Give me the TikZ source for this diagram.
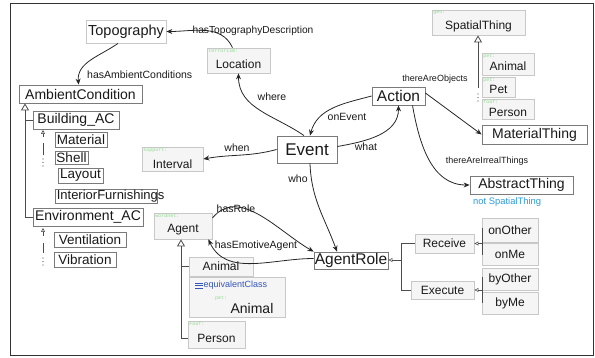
\documentclass[tikz,border=0pt]{standalone}
\usepackage{fontspec}
\setmainfont{Liberation Sans}
\newfontfamily\monof{Liberation Mono}
\usetikzlibrary{arrows.meta,calc}
\definecolor{coreB}{HTML}{7A7A7A}
\definecolor{extB}{HTML}{C8C8C8}
\definecolor{extF}{HTML}{F5F5F5}
\definecolor{pfxC}{HTML}{90DC90}
\definecolor{blueT}{HTML}{2A9AE0}
\definecolor{eqB}{HTML}{3355BB}
\tikzset{
 core/.style={draw=coreB, fill=white, line width=0.8pt, inner sep=0pt, text=black!90, font=\fontsize{14}{16}\selectfont},
 smc/.style={font=\fontsize{13.5}{15}\selectfont},
 ext/.style={draw=extB, fill=extF, line width=0.8pt, inner sep=0pt, text=black!90, font=\fontsize{12}{14}\selectfont},
 etxt/.style={inner sep=0pt, text=black!90, font=\fontsize{12}{14}\selectfont},
 pfx/.style={font=\monof\fontsize{5}{6}\selectfont, text=pfxC, inner sep=1.5pt, anchor=north west},
 lbl/.style={font=\fontsize{10.5}{12}\selectfont, inner sep=0pt, text=black!90},
 slbl/.style={font=\fontsize{9}{11}\selectfont, inner sep=0pt, text=black!90},
 arr/.style={-{Stealth[length=6pt,width=5pt]}, line width=0.8pt, draw=black!85},
 hier/.style={line width=0.8pt, draw=black!70},
 tri/.style={-{Triangle[open,length=7pt,width=8pt]}, line width=0.8pt, draw=black!70},
 stri/.style={-{Triangle[open,length=4pt,width=4pt]}, line width=0.6pt, draw=black!70},
}
\newcommand\bx[7]{%
 \pgfmathsetmacro\bxcx{(#3+#5)/2}%
 \pgfmathsetmacro\bxcy{-(#4+#6)/2}%
 \pgfmathsetmacro\bxw{#5-#3}%
 \pgfmathsetmacro\bxh{#6-#4}%
 \node[#1, minimum width=\bxw pt, minimum height=\bxh pt] (#2) at (\bxcx,\bxcy) {#7};}
\newcommand\pbx[9]{%
 \bx{#1}{#2}{#3}{#4}{#5}{#6}{}%
 \node[pfx] (#2-p) at (#2.north west) {#7};%
 \node[etxt] (#2-t) at ([yshift=-#9pt]#2.center) {#8};}
\begin{document}
\begin{tikzpicture}[x=1pt,y=1pt]
\useasboundingbox (0,0) rectangle (595,-358);
\draw[line width=0.8pt, draw=black!80] (10,-3) rectangle (593,-355);

% core boxes
\bx{ext,fill=white,font=\fontsize{14.5}{16}\selectfont}{topo}{86}{20}{166}{43}{Topography}
\bx{core}{amb}{19}{85}{142}{103}{AmbientCondition}
\bx{core}{bac}{33}{111}{119}{129}{Building\_AC}
\bx{core,smc}{mat}{55}{132}{107}{147}{Material}
\bx{core,smc}{shell}{55}{151}{88}{164}{Shell}
\bx{core,smc}{layout}{58}{168}{103}{183}{Layout}
\bx{core}{intf}{55}{189}{157}{203}{}
\node[anchor=west, inner sep=0pt, text=black!90, font=\fontsize{13}{15}\selectfont] (intf-t) at ([xshift=2pt]intf.west) {InteriorFurnishings};
\bx{core}{env}{33}{208}{143}{226}{Environment\_AC}
\bx{core,smc}{vent}{54}{232}{126}{247}{Ventilation}
\bx{core,smc}{vib}{54}{252}{116}{267}{Vibration}
\bx{core,font=\fontsize{17}{19}\selectfont}{event}{277}{136}{337}{163}{Event}
\bx{core,font=\fontsize{15.5}{17}\selectfont}{action}{372}{87}{425}{105}{Action}
\bx{core}{mat2}{482}{125}{587}{144}{MaterialThing}
\bx{core}{abs}{470}{176}{573}{194}{AbstractThing}
\node[anchor=west, inner sep=0pt, text=blueT, font=\fontsize{9.4}{11}\selectfont] (notsp) at (473,-202) {not SpatialThing};
\bx{core,font=\fontsize{15.5}{17}\selectfont}{arole}{314}{252}{388}{269}{AgentRole}

% external boxes
\pbx{ext}{loc}{207}{48}{270}{73}{terrorism:}{Location}{4}
\pbx{ext}{spat}{432}{10}{525}{35}{geo:}{SpatialThing}{4}
\pbx{ext}{sanimal}{482}{53}{534}{75}{pet:}{Animal}{2}
\pbx{ext}{spet}{482}{77}{515}{97}{pet:}{Pet}{2}
\pbx{ext}{sperson}{482}{99}{534}{119}{foaf:}{Person}{3}
\pbx{ext}{interval}{142}{147}{203}{171}{support:}{Interval}{5}
\pbx{ext}{agent}{154}{213}{212}{239}{wordnet:}{Agent}{4}
\bx{ext}{aanimal}{189}{257}{253}{276}{Animal}
\bx{ext}{equiv}{189}{277}{285}{317}{}
\foreach \yy in {283,285.5,288} \draw[eqB, line width=0.9pt] (195,-\yy) -- (203,-\yy);
\node[anchor=west, inner sep=0pt, text=eqB, font=\fontsize{9}{11}\selectfont] (equiv-t) at (203.5,-285.5) {equivalentClass};
\node[anchor=west, inner sep=0pt, text=pfxC, font=\monof\fontsize{5}{6}\selectfont] (equiv-p) at (215,-298) {pet:};
\node[inner sep=0pt, text=black!90, font=\fontsize{14}{16}\selectfont] (equiv-a) at (252,-308) {Animal};
\pbx{ext}{aperson}{188}{321}{245}{348}{Foaf:}{Person}{4}
\bx{ext}{receive}{415}{234}{474}{253}{Receive}
\bx{ext}{execute}{411}{281}{474}{299}{Execute}
\bx{ext}{onother}{482}{218}{538}{242}{onOther}
\bx{ext}{onme}{482}{243}{538}{265}{onMe}
\bx{ext}{byother}{482}{268}{538}{290}{byOther}
\bx{ext}{byme}{482}{292}{538}{314}{byMe}

% hierarchy: AmbientCondition
\coordinate (ambc) at (25,-217);
\draw[hier] (env.west) -- (env.west -| ambc);
\draw[tri] (env.west -| ambc) -- (ambc |- amb.south);
\draw[hier] (bac.west) -- (bac.west -| ambc);
% Building_AC ellipsis
\draw[stri] (43,-137) -- (43,-130);
\draw[hier] (43,-143) -- (43,-155);
\foreach \yy in {159,162.5,166} \fill[black!70] (43,-\yy) circle (0.7);
% Environment_AC ellipsis
\draw[stri] (43,-236) -- (43,-228);
\draw[hier] (43,-243) -- (43,-253);
\foreach \yy in {258,261.5,265} \fill[black!70] (43,-\yy) circle (0.7);
% SpatialThing
\coordinate (sx) at (478,-88);
\draw[tri] (sx) -- (sx |- spat.south);
\foreach \yy in {94,97.5,101} \fill[black!70] (478,-\yy) circle (0.7);
% Agent
\coordinate (ax) at (181,-338);
\draw[hier] (ax) -- (ax -| aperson.west);
\draw[tri] (ax) -- (ax |- agent.south);
\draw[hier] (aanimal.west) -- (aanimal.west -| ax);
% AgentRole
\coordinate (rx) at (401,-260);
\draw[hier] (rx |- receive.west) -- (rx |- execute.west);
\draw[hier] (receive.west) -- (receive.west -| rx);
\draw[hier] (execute.west) -- (execute.west -| rx);
\draw[stri] (rx) -- (rx -| arole.east);
\coordinate (rc) at (482,-243.5);
\draw[hier] (482,-228) -- (482,-255);
\draw[stri] (rc) -- (receive.east);
\coordinate (ec) at (482,-290);
\draw[hier] (482,-277) -- (482,-303);
\draw[stri] (ec) -- (execute.east);

% relations
\draw[arr] ([xshift=-6pt]loc.north) to[out=115,in=0] (topo.east);
\node[lbl, font=\fontsize{10.2}{12}\selectfont] (l-htd) at (253,-31) {hasTopographyDescription};
\draw[arr] ([xshift=-8pt]topo.south) to[out=215,in=95] ([xshift=60pt]amb.north west);
\node[lbl, anchor=west] (l-hac) at (87,-75) {hasAmbientConditions};
\draw[arr] ([xshift=-3pt]event.north) to[out=145,in=-90] (loc.south);
\node[lbl] (l-where) at (272,-97) {where};
\draw[arr] (action.west) to[out=195,in=75] ([xshift=3pt]event.north);
\node[lbl] (l-onev) at (347,-117) {onEvent};
\draw[arr] ([yshift=3pt]event.east) to[out=10,in=-90] (action.south);
\node[lbl] (l-what) at (366,-147) {what};
\draw[arr] (event.west) to[out=195,in=10] (interval.east);
\node[lbl] (l-when) at (237,-148) {when};
\draw[arr] ([yshift=3pt]action.east) -- (mat2.west);
\node[slbl] (l-tao) at (435,-79) {thereAreObjects};
\draw[arr] ([xshift=14pt]action.south) to[out=-80,in=180] (abs.west);
\node[slbl] (l-tai) at (487,-161) {thereAreIrrealThings};
\draw[arr] ([xshift=3pt]event.south) to[out=-88,in=110] ([xshift=-14pt]arole.north);
\node[lbl] (l-who) at (298,-179) {who};
\draw[arr] ([yshift=8pt]agent.east) to[out=50,in=150] (arole.north west);
\node[lbl] (l-hr) at (236,-209) {hasRole};
\draw[arr] ([yshift=2pt]arole.west) to[out=180,in=-65] ([xshift=-4pt]agent.south east);
\node[lbl] (l-hea) at (256,-246) {hasEmotiveAgent};
\end{tikzpicture}
\end{document}
